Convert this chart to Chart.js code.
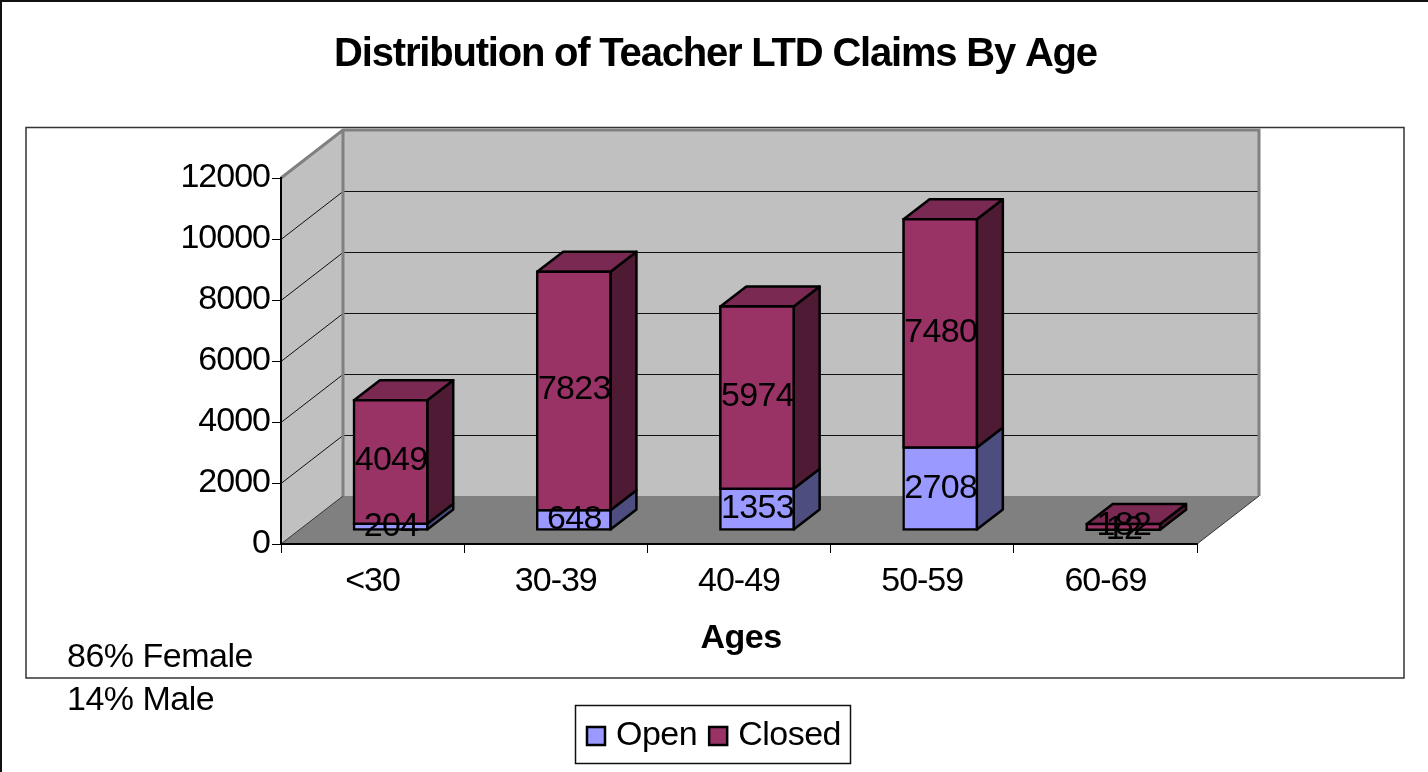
<!DOCTYPE html>
<html>
<head>
<meta charset="utf-8">
<style>html,body{margin:0;padding:0;background:#fff}canvas{display:block}</style>
<script src="https://cdn.jsdelivr.net/npm/chart.js@4"></script>
</head>
<body>
<div style="width:1428px;height:772px"><canvas id="c" width="1428" height="772"></canvas></div>
<script>
const categories = ['<30','30-39','40-49','50-59','60-69'];
const openValues = [204,648,1353,2708,12];
const closedValues = [4049,7823,5974,7480,182];
const yTicks = [0,2000,4000,6000,8000,10000,12000];
const notes = ['86% Female','14% Male'];
const chartTitle = 'Distribution of Teacher LTD Claims By Age';
const axisTitle = 'Ages';

const FONT = '"Liberation Sans", Arial, sans-serif';
const SPACING = '-0.5px';
const WALL = {dx:62, dy:-48};
const BAR = {dx:26, dy:-20};
const BAR_SHIFT = {x:(WALL.dx-BAR.dx)/2, y:(WALL.dy-BAR.dy)/2};
const OPEN = {front:'#9999ff', side:'#4d4d80', top:'#7a7acc'};
const CLOSED = {front:'#993366', side:'#4f1a33', top:'#7a2952'};

function poly(ctx, pts, fill, stroke, lw){
  ctx.beginPath();
  pts.forEach((p,i)=> i?ctx.lineTo(p[0],p[1]):ctx.moveTo(p[0],p[1]));
  ctx.closePath();
  if(fill){ctx.fillStyle=fill;ctx.fill();}
  if(stroke){ctx.strokeStyle=stroke;ctx.lineWidth=lw;ctx.lineJoin='round';ctx.stroke();}
}

const scene = {
  id:'scene',
  beforeInit(chart){ chart.ctx.letterSpacing = SPACING; },
  afterLayout(chart){
    chart.legend.left=5; chart.legend.right=chart.width+6;
    chart.titleBlock.left=3; chart.titleBlock.right=chart.width;
    if(!chart._wrappedText){
      chart._wrappedText=true;
      const c=chart.ctx;
      const t=chart.titleBlock, origT=t.draw.bind(t);
      t.draw=function(){c.save();c.letterSpacing='-1.2px';origT();c.restore();};
      [chart.scales.x,chart.scales.y].forEach(s=>{
        const orig=s.drawLabels.bind(s);
        s.drawLabels=function(a){c.save();c.letterSpacing='-1px';orig(a);c.restore();};
      });
      const sx=chart.scales.x, origTitle=sx.drawTitle.bind(sx);
      sx.drawTitle=function(a){c.save();c.translate(2,0);origTitle(a);c.restore();};
    }
  },
  beforeDraw(chart){
    const ctx = chart.ctx, a = chart.chartArea, ys = chart.scales.y;
    ctx.letterSpacing = SPACING;
    ctx.save();
    ctx.fillStyle='#fff'; ctx.fillRect(0,0,chart.width,chart.height);
    ctx.strokeStyle='#111'; ctx.lineWidth=2;
    ctx.beginPath(); ctx.moveTo(1,chart.height); ctx.lineTo(1,1); ctx.lineTo(chart.width,1); ctx.stroke();
    ctx.strokeStyle='#333'; ctx.lineWidth=1.5;
    ctx.strokeRect(26,127.5,1378,550.5);
    const L=a.left,R=a.right,T=a.top,B=a.bottom,dx=WALL.dx,dy=WALL.dy;
    poly(ctx,[[L,T],[L+dx,T+dy],[L+dx,B+dy],[L,B]],'#c0c0c0');
    poly(ctx,[[L+dx,T+dy],[R+dx,T+dy],[R+dx,B+dy],[L+dx,B+dy]],'#c0c0c0');
    poly(ctx,[[L,B],[L+dx,B+dy],[R+dx,B+dy],[R,B]],'#808080');
    ctx.strokeStyle='#111'; ctx.lineWidth=1;
    yTicks.forEach(v=>{
      if(v===0) return;
      const y=Math.round(ys.getPixelForValue(v));
      if(v<12000){
        ctx.beginPath(); ctx.moveTo(L,y+0.5); ctx.lineTo(L+dx,y+dy+0.5); ctx.lineTo(R+dx,y+dy+0.5); ctx.stroke();
      }
    });
    ctx.strokeStyle='#808080'; ctx.lineWidth=3;
    ctx.beginPath();
    ctx.moveTo(L,T); ctx.lineTo(L+dx,T+dy); ctx.lineTo(R+dx,T+dy); ctx.lineTo(R+dx,B+dy);
    ctx.moveTo(L+dx,T+dy); ctx.lineTo(L+dx,B+dy);
    ctx.stroke();
    ctx.strokeStyle='#333'; ctx.lineWidth=1;
    ctx.beginPath(); ctx.moveTo(R,B); ctx.lineTo(R+dx,B+dy); ctx.stroke();
    ctx.beginPath(); ctx.moveTo(L,B); ctx.lineTo(L+dx,B+dy); ctx.stroke();
    ctx.restore();
  },
  beforeDatasetsDraw(chart){
    const ctx=chart.ctx;
    ctx.save();
    ctx.translate(BAR_SHIFT.x,BAR_SHIFT.y);
    const metas=[chart.getDatasetMeta(0),chart.getDatasetMeta(1)];
    const cols=[OPEN,CLOSED];
    categories.forEach((_,i)=>{
      metas.forEach((m,k)=>{
        const b=m.data[i], hw=b.width/2;
        const r=b.x+hw, t=b.y, bot=b.base;
        poly(ctx,[[r,bot],[r+BAR.dx,bot+BAR.dy],[r+BAR.dx,t+BAR.dy],[r,t]],cols[k].side,'#000',2.5);
      });
      const b=metas[1].data[i], hw=b.width/2;
      const l=b.x-hw,r=b.x+hw,t=b.y;
      poly(ctx,[[l,t],[l+BAR.dx,t+BAR.dy],[r+BAR.dx,t+BAR.dy],[r,t]],CLOSED.top,'#000',2.5);
    });
  },
  afterDatasetsDraw(chart){
    const ctx=chart.ctx;
    // the upper segment sits on top of the lower one at the thin stacks
    chart.getDatasetMeta(1).data.forEach(el=>el.draw(ctx));
    ctx.restore();
    ctx.save();
    ctx.font='34px '+FONT; ctx.fillStyle='#000'; ctx.textAlign='center'; ctx.textBaseline='middle';
    ctx.letterSpacing='-0.7px';
    [0,1].forEach(k=>{
      const m=chart.getDatasetMeta(k), vals=chart.data.datasets[k].data;
      m.data.forEach((b,i)=>{
        ctx.fillText(String(vals[i]), b.x+BAR_SHIFT.x+0.5, (b.y+b.base)/2+BAR_SHIFT.y+(k===0?0:-1));
      });
    });
    ctx.restore();
  },
  afterDraw(chart){
    const ctx=chart.ctx;
    ctx.save();
    ctx.letterSpacing=SPACING;
    ctx.font='34px '+FONT; ctx.fillStyle='#000'; ctx.textAlign='left'; ctx.textBaseline='middle';
    ctx.fillText(notes[0],67,657.5);
    ctx.fillText(notes[1],67,701);
    ctx.strokeStyle='#111'; ctx.lineWidth=1.5;
    ctx.strokeRect(575.5,705.5,275,58);
    ctx.restore();
  }
};

new Chart(document.getElementById('c'),{
  type:'bar',
  data:{labels:categories,datasets:[
    {label:'Open',data:openValues,backgroundColor:OPEN.front,borderColor:'#000',borderWidth:2.5,inflateAmount:1.25,borderSkipped:false,stack:'s',clip:false},
    {label:'Closed',data:closedValues,backgroundColor:CLOSED.front,borderColor:'#000',borderWidth:2.5,inflateAmount:1.25,borderSkipped:false,stack:'s',clip:false}
  ]},
  plugins:[scene],
  options:{
    responsive:false,animation:false,
    layout:{padding:{left:0,right:231,top:0,bottom:9}},
    datasets:{bar:{barPercentage:0.4,categoryPercentage:1}},
    plugins:{
      title:{display:true,text:chartTitle,color:'#000',font:{family:FONT,size:40,weight:'bold'},padding:{top:31,bottom:99}},
      legend:{display:true,position:'bottom',labels:{color:'#000',font:{family:FONT,size:34},usePointStyle:true,pointStyle:'rect',boxWidth:6,boxHeight:18,padding:18}},
      tooltip:{enabled:false}
    },
    scales:{
      x:{stacked:true,
        afterFit(s){s.height=157;},
        border:{color:'#000',width:2},
        grid:{display:true,drawOnChartArea:false,color:'#000',tickColor:'#000',tickLength:9},
        ticks:{color:'#000',font:{family:FONT,size:34},padding:8,maxRotation:0,autoSkip:false},
        title:{display:true,text:axisTitle,color:'#000',font:{family:FONT,size:34,weight:'bold'},padding:{top:0,bottom:42}}
      },
      y:{stacked:true,min:0,max:12000,
        afterFit(s){s.width=281;},
        afterBuildTicks(s){s.ticks=yTicks.map(v=>({value:v}));},
        border:{color:'#000',width:2},
        grid:{display:true,drawOnChartArea:false,color:'#000',tickColor:'#000',tickLength:9},
        ticks:{color:'#000',font:{family:FONT,size:34},padding:2,callback:v=>String(v)}
      }
    }
  }
});
</script>
</body>
</html>
